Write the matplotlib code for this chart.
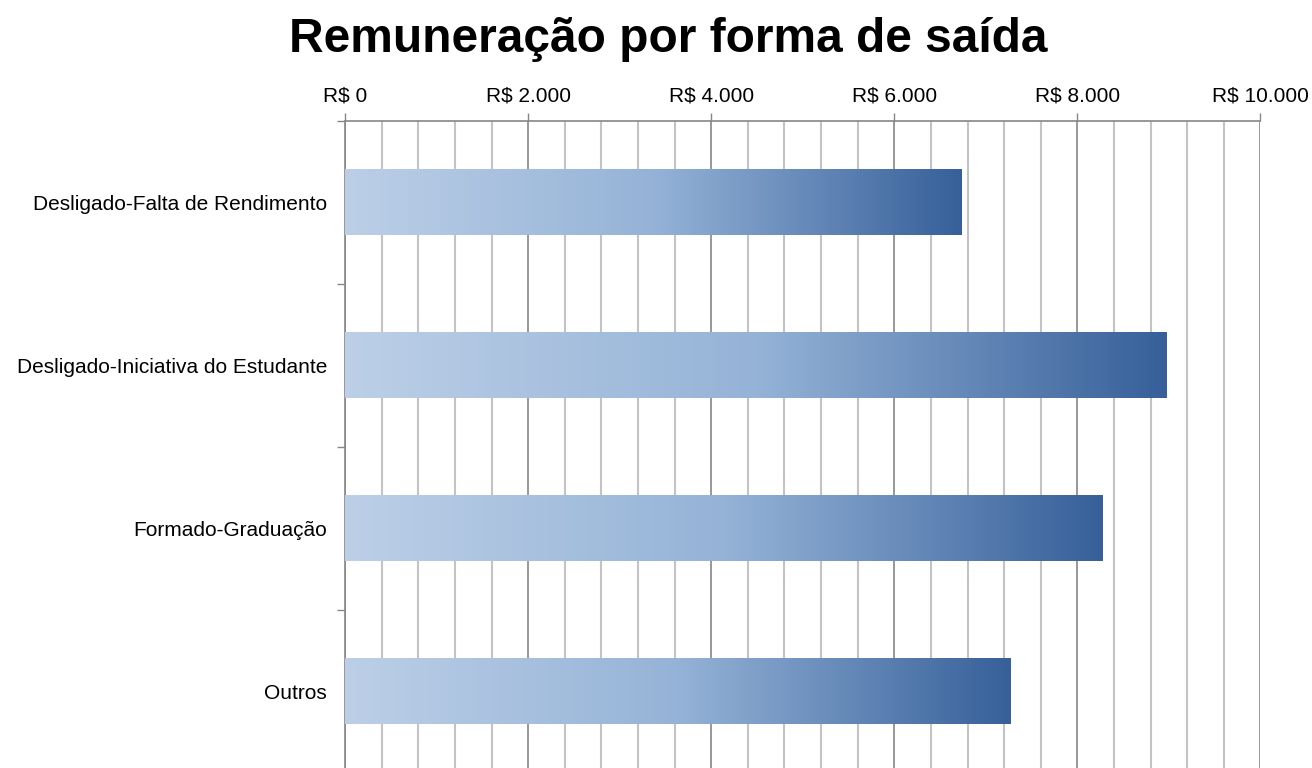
import matplotlib
matplotlib.use("Agg")
import matplotlib.pyplot as plt
import numpy as np
from matplotlib.colors import LinearSegmentedColormap
from matplotlib.ticker import FuncFormatter, MultipleLocator

plt.rcParams["font.family"] = ["Liberation Sans", "DejaVu Sans"]

categorias = [
    "Desligado-Falta de Rendimento",
    "Desligado-Iniciativa do Estudante",
    "Formado-Graduação",
    "Outros",
]
remuneracao = [6740, 8970, 8280, 7270]

grad = LinearSegmentedColormap.from_list(
    "grad", [(0.0, "#bccfe7"), (0.5, "#95b3d7"), (1.0, "#37609a")]
)

fig = plt.figure(figsize=(13.12, 7.68), dpi=100)
ax = fig.add_axes([0.263, -0.006, 0.6977, 0.8484])

y = np.arange(len(categorias))
bars = ax.barh(y, remuneracao, height=0.4, facecolor="none", edgecolor="none", zorder=3)

# gradiente dentro de cada barra
g = np.linspace(0, 1, 256).reshape(1, -1)
for b in bars:
    x0, y0 = b.get_x(), b.get_y()
    w, h = b.get_width(), b.get_height()
    ax.imshow(g, cmap=grad, aspect="auto", extent=(x0, x0 + w, y0 + h, y0),
              zorder=3, interpolation="bicubic")

ax.set_xlim(0, 10000)
ax.set_ylim(len(categorias) - 0.5, -0.5)

ax.xaxis.tick_top()
ax.xaxis.set_major_locator(MultipleLocator(2000))
ax.xaxis.set_minor_locator(MultipleLocator(400))
ax.xaxis.set_major_formatter(
    FuncFormatter(lambda v, _: "R$ " + f"{int(v):,}".replace(",", "."))
)
ax.tick_params(axis="x", which="major", direction="out", length=6, width=1,
               color="#868686", labelsize=15, pad=5)
ax.tick_params(axis="x", which="minor", length=0)
ax.grid(axis="x", which="major", color="#868686", lw=1.2, zorder=1)
ax.grid(axis="x", which="minor", color="#c3c3c3", lw=1.5, zorder=1)

ax.set_yticks(y)
ax.set_yticklabels(categorias)
ax.set_yticks(np.arange(-0.5, len(categorias), 1), minor=True)
ax.tick_params(axis="y", which="major", length=0, labelsize=15, pad=13)
ax.tick_params(axis="y", which="minor", direction="out", length=6, width=1,
               color="#868686")

for s in ["right", "bottom"]:
    ax.spines[s].set_visible(False)
for s in ["top", "left"]:
    ax.spines[s].set_color("#868686")
    ax.spines[s].set_linewidth(1.2)

fig.text(0.509, 0.948, "Remuneração por forma de saída", ha="center", va="center",
         fontsize=34.5, fontweight="bold")

fig.savefig("out.png", dpi=100)
